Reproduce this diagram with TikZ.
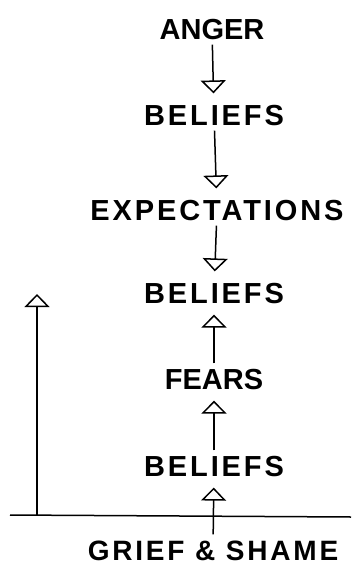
\documentclass[tikz,border=0pt]{standalone}
\usepackage{fontspec}
\setmainfont{Liberation Sans}[LetterSpace=10]
\usetikzlibrary{arrows.meta}
\tikzset{
  lbl/.style={font=\bfseries\fontsize{29}{29}\selectfont, inner sep=0pt, text height=20.8pt, text depth=0pt},
  tight/.style={font=\bfseries\fontsize{29}{29}\selectfont\addfontfeatures{LetterSpace=0}},
  conn/.style={line width=1.5pt, -{Triangle[open, length=13pt, width=25pt, line width=1.5pt]}, shorten <=5pt, shorten >=11pt},
}
\begin{document}
\begin{tikzpicture}[x=1pt,y=-1pt]
\useasboundingbox (0,0) rectangle (351,568);
\node[lbl, tight] (anger) at (212,29) {ANGER};
\node[lbl] (b1) at (214,115) {BELIEFS};
\node[lbl] (exp) at (217,210) {EXPECTATIONS};
\node[lbl] (b2) at (214,293) {BELIEFS};
\node[lbl, tight] (fears) at (214,379) {FEARS};
\node[lbl] (b3) at (214,466) {BELIEFS};
\node[lbl, font=\bfseries\fontsize{28}{28}\selectfont] (gs) at (213,550) {GRIEF \& SHAME};
\draw[conn] (anger) -- (b1);
\draw[conn] (b1) -- (exp);
\draw[conn] (exp) -- (b2);
\draw[conn] (fears) -- (b2);
\draw[conn] (b3) -- (fears);
\draw[conn] (gs) -- (b3);
\coordinate (axl) at (10,515);
\coordinate (axr) at (351,517);
\coordinate (vb) at (37,515);
\coordinate (vt) at (37,294);
\draw[line width=1.5pt] (axl) -- (axr);
\draw[conn, shorten <=0pt, shorten >=0pt] (vb) -- (vt);
\end{tikzpicture}
\end{document}
